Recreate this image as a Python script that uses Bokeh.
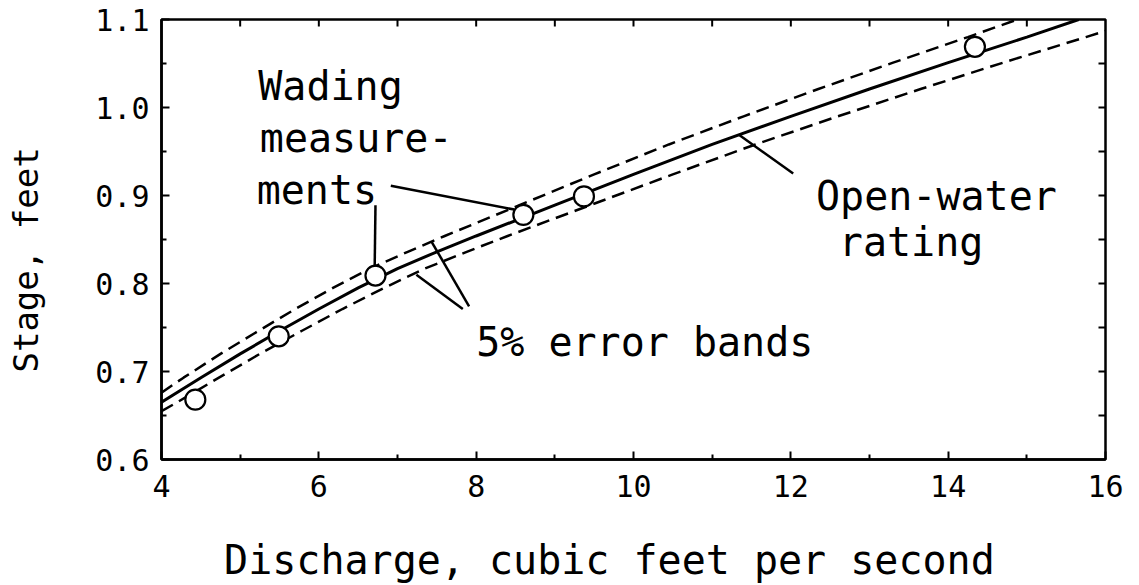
from bokeh.plotting import figure
from bokeh.models import FixedTicker, Label, Range1d, PrintfTickFormatter
from bokeh.embed import file_html
from bokeh.resources import INLINE

# ---- data ----
# open-water rating curve: discharge (cfs) vs stage (ft)
rating_q = [4.0, 4.5, 5.0, 5.5, 6.0, 6.5, 7.0, 7.5, 8.0, 9.0, 10.0, 11.0, 12.0, 13.0, 14.0, 15.0, 15.66]
rating_h = [0.665, 0.693, 0.720, 0.746, 0.771, 0.795, 0.817, 0.836, 0.854, 0.889, 0.924, 0.958, 0.990, 1.021, 1.051, 1.080, 1.100]
# upper 5% error band (dashed)
upper_q = [4.0, 4.28, 4.75, 5.23, 5.70, 6.18, 6.65, 7.13, 7.60, 8.55, 9.50, 10.45, 11.40, 12.35, 13.30, 14.25, 14.88]
upper_h = [0.676, 0.693, 0.720, 0.746, 0.771, 0.795, 0.817, 0.836, 0.854, 0.889, 0.924, 0.958, 0.990, 1.021, 1.051, 1.080, 1.100]
# lower 5% error band (dashed)
lower_q = [4.0, 4.20, 4.73, 5.25, 5.78, 6.30, 6.83, 7.35, 7.88, 8.40, 9.45, 10.50, 11.55, 12.60, 13.65, 14.70, 15.75, 16.0]
lower_h = [0.655, 0.665, 0.693, 0.720, 0.746, 0.771, 0.795, 0.817, 0.836, 0.854, 0.889, 0.924, 0.958, 0.990, 1.021, 1.051, 1.080, 1.087]
# wading measurements
meas_q = [4.43, 5.49, 6.72, 8.60, 9.37, 14.34]
meas_h = [0.668, 0.740, 0.809, 0.878, 0.899, 1.069]

x_ticks = [4, 6, 8, 10, 12, 14, 16]
x_minor = [5, 7, 9, 11, 13, 15]
y_ticks = [0.6, 0.7, 0.8, 0.9, 1.0, 1.1]
y_minor = [0.65, 0.75, 0.85, 0.95, 1.05]
top_ticks = [5, 6, 7, 8, 9, 10, 11, 12, 13, 14, 15]
right_ticks = [0.65, 0.7, 0.75, 0.8, 0.85, 0.9, 0.95, 1.0, 1.05]

NBSP = "\u00a0"
x_title = "Discharge, cubic feet per second"
y_title = "Stage, feet"

FONT = "DejaVu Sans Mono"

p = figure(width=1131, height=585, output_backend="svg", toolbar_location=None,
           x_range=Range1d(4, 16), y_range=Range1d(0.6, 1.1),
           min_border_left=161, min_border_right=26, min_border_top=19, min_border_bottom=124)
p.grid.visible = False
p.outline_line_color = "black"
p.outline_line_width = 2.5
p.background_fill_color = "white"
p.border_fill_color = "white"

def style_axis(ax):
    ax.axis_line_color = "black"
    ax.axis_line_width = 2.5
    ax.major_tick_line_color = "black"
    ax.major_tick_line_width = 2
    ax.minor_tick_line_color = "black"
    ax.minor_tick_line_width = 2
    ax.major_tick_out = 0
    ax.minor_tick_out = 0
    ax.major_tick_in = 8
    ax.minor_tick_in = 5
    ax.major_label_text_font = FONT
    ax.major_label_text_font_size = "30px"
    ax.major_label_text_color = "black"
    ax.axis_label_text_font = FONT
    ax.axis_label_text_font_style = "normal"
    ax.axis_label_text_color = "black"

xa = p.xaxis[0]
xa.ticker = FixedTicker(ticks=x_ticks, minor_ticks=x_minor)
style_axis(xa)
xa.major_label_standoff = 15
xa.axis_label = x_title + NBSP + NBSP
xa.axis_label_text_font_size = "40px"
xa.axis_label_standoff = 37

ya = p.yaxis[0]
ya.ticker = FixedTicker(ticks=y_ticks, minor_ticks=y_minor)
ya.formatter = PrintfTickFormatter(format="%.1f")
style_axis(ya)
ya.major_label_standoff = 12
ya.axis_label = y_title + NBSP + NBSP
ya.axis_label_text_font_size = "34px"
ya.axis_label_standoff = 46

# inward ticks on the top and right frame edges
n_top = len(top_ticks)
p.segment(top_ticks, [1.1] * n_top, top_ticks, [1.1 - 0.0079] * n_top,
          line_color="black", line_width=2)
n_right = len(right_ticks)
p.segment([16] * n_right, right_ticks, [16 - 0.089] * n_right, right_ticks,
          line_color="black", line_width=2)

# curves
p.line(upper_q, upper_h, line_color="black", line_width=2.5, line_dash="13 7")
p.line(lower_q, lower_h, line_color="black", line_width=2.5, line_dash="13 7")
p.line(rating_q, rating_h, line_color="black", line_width=3)
p.scatter(meas_q, meas_h, marker="circle", size=20, fill_color="white",
          line_color="black", line_width=2.2)

# leader lines
lead_x0 = [6.915, 6.72, 7.83, 7.91, 12.03]
lead_y0 = [0.911, 0.889, 0.771, 0.774, 0.925]
lead_x1 = [8.485, 6.71, 7.24, 7.43, 11.34]
lead_y1 = [0.884, 0.819, 0.810, 0.848, 0.969]
p.segment(lead_x0, lead_y0, lead_x1, lead_y1, line_color="black", line_width=2.5)

# annotation texts (data coordinates)
notes = [
    ("Wading", 5.23, 1.024),
    ("measure-", 5.25, 0.965),
    ("ments", 5.21, 0.906),
    ("5% error bands", 8.00, 0.734),
    ("Open-water", 12.32, 0.900),
    ("rating", 12.61, 0.847),
]
for t, x, y in notes:
    p.add_layout(Label(x=x, y=y, text=t, text_font=FONT, text_font_size="40px",
                       text_color="black", text_baseline="alphabetic", text_align="left"))

open("out.html", "w").write(file_html(p, INLINE))
